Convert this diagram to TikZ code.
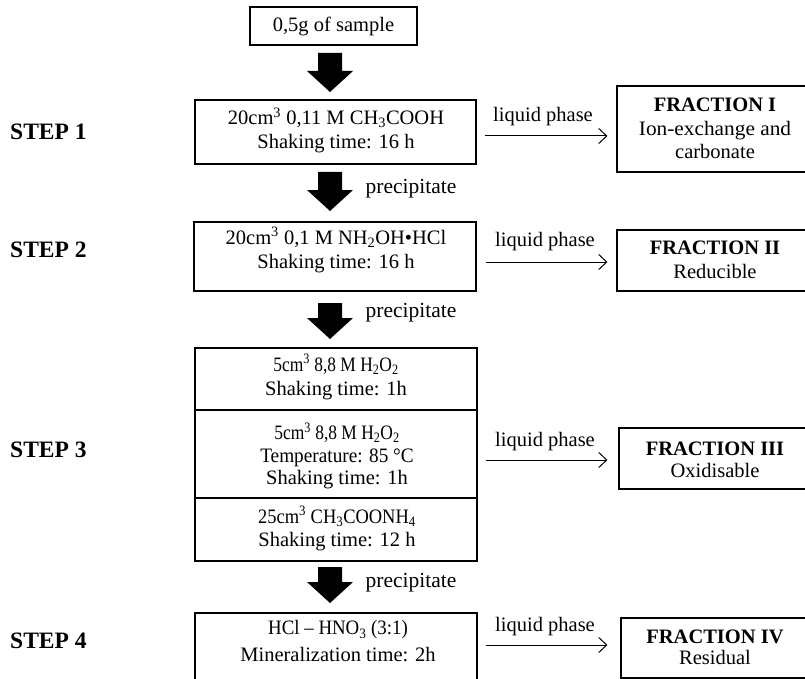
\documentclass[tikz,border=0pt]{standalone}
\usepackage{fontspec}
\usepackage{graphicx}
\setmainfont{Liberation Serif}
\usetikzlibrary{arrows.meta}
\newcommand\blockarrow[4]{\fill[black] (#1-12,#2) -- (#1+12,#2) -- (#1+12,#3) -- (#1+23,#3) -- (#1,#4) -- (#1-23,#3) -- (#1-12,#3) -- cycle;}
\newcommand\hsq[2]{\scalebox{#1}[1]{#2}}
\begin{document}
\begin{tikzpicture}[x=1pt,y=-1pt,
  box/.style={draw, line width=1.1pt, inner sep=0pt},
  txt/.style={align=center, inner sep=0pt, font=\fontsize{20.5}{24}\selectfont},
  steplabel/.style={anchor=west, inner sep=0pt, font=\fontsize{23.5}{26}\selectfont\bfseries},
  lp/.style={line width=1pt, -{Straight Barb[length=8pt,width=15pt,line width=1pt]}},
  lplabel/.style={inner sep=0pt, font=\fontsize{20.5}{24}\selectfont},
  preclabel/.style={inner sep=0pt, font=\fontsize{21.5}{24}\selectfont}]
\useasboundingbox (0,0) rectangle (805,679);
\clip (0,0) rectangle (805,679);
\fill[white] (0,0) rectangle (805,679);

% step labels
\node[steplabel] (L1) at (10,132) {STEP 1};
\node[steplabel] (L2) at (10,250) {STEP 2};
\node[steplabel] (L3) at (10,450) {STEP 3};
\node[steplabel] (L4) at (10,641) {STEP 4};

% sample
\node[box, minimum width=167, minimum height=38] (sample) at (333.5,26) {};
\node[txt] (sampletxt) at (333.5,26) {0,5g of sample};

% step boxes
\node[box, minimum width=281, minimum height=64] (s1) at (335.5,132) {};
\node[txt] (s1t) at (336,130.5) {20cm\textsuperscript{3} 0,11 M CH\textsubscript{3}COOH\\Shaking time: 16 h};

\node[box, minimum width=282, minimum height=69] (s2) at (335,256.5) {};
\node[txt] (s2t) at (336,250) {20cm\textsuperscript{3} 0,1 M NH\textsubscript{2}OH•HCl\\Shaking time: 16 h};

\node[box, minimum width=282, minimum height=62] (s3a) at (336,379) {};
\node[txt] (s3at) at (336,377) {\hsq{0.85}{5cm\textsuperscript{3} 8,8 M H\textsubscript{2}O\textsubscript{2}}\\Shaking time: 1h};

\node[box, minimum width=282, minimum height=88] (s3b) at (336,454) {};
\node[txt,font=\fontsize{20.5}{22.5}\selectfont] (s3bt) at (337,456) {\hsq{0.85}{5cm\textsuperscript{3} 8,8 M H\textsubscript{2}O\textsubscript{2}}\\\hsq{0.94}{Temperature: 85 °C}\\Shaking time: 1h};

\node[box, minimum width=282, minimum height=63] (s3c) at (336,529.5) {};
\node[txt,font=\fontsize{20.5}{23}\selectfont] (s3ct) at (337,528.5) {\hsq{0.9}{25cm\textsuperscript{3} CH\textsubscript{3}COONH\textsubscript{4}}\\Shaking time: 12 h};

\node[box, minimum width=282, minimum height=87] (s4) at (336,656.5) {};
\node[txt,font=\fontsize{20.5}{27}\selectfont] (s4t) at (338,641.5) {\hsq{0.92}{HCl – HNO\textsubscript{3} (3:1)}\\Mineralization time: 2h};

% fraction boxes
\node[box, minimum width=191, minimum height=86] (f1) at (712.5,129) {};
\node[txt,font=\fontsize{20.5}{23.5}\selectfont] (f1t) at (715,128.5) {\textbf{FRACTION I}\\\hsq{1.04}{Ion-exchange and}\\carbonate};

\node[box, minimum width=191, minimum height=61] (f2) at (712.5,260.5) {};
\node[txt] (f2t) at (715,260) {\textbf{FRACTION II}\\Reducible};

\node[box, minimum width=189, minimum height=61] (f3) at (713.5,458.5) {};
\node[txt,font=\fontsize{20.5}{21.5}\selectfont] (f3t) at (715,460) {\textbf{FRACTION III}\\Oxidisable};

\node[box, minimum width=187, minimum height=60] (f4) at (714.5,648) {};
\node[txt,font=\fontsize{20.5}{21.5}\selectfont] (f4t) at (715,647.5) {\textbf{FRACTION IV}\\Residual};

% block arrows
\blockarrow{330}{53}{71}{92}
\blockarrow{330}{172}{190}{211}
\blockarrow{330}{303}{318}{339}
\blockarrow{330}{567}{582}{603}

\node[preclabel] (p1) at (411,189) {precipitate};
\node[preclabel] (p2) at (411,313) {precipitate};
\node[preclabel] (p3) at (411,583) {precipitate};

% liquid phase arrows
\node[lplabel] (lp1) at (543,117) {liquid phase};
\draw[lp] ([shift={(8,4)}]s1.east) -- ([shift={(-9,7)}]f1.west);
\node[lplabel] (lp2) at (545,242) {liquid phase};
\draw[lp] ([shift={(9,5.5)}]s2.east) -- ([shift={(-9,1.5)}]f2.west);
\node[lplabel] (lp3) at (545,442) {liquid phase};
\draw[lp] ([shift={(8,6)}]s3b.east) -- ([shift={(-11,1.5)}]f3.west);
\node[lplabel] (lp4) at (545,627) {liquid phase};
\draw[lp] ([shift={(8,-11.5)}]s4.east) -- ([shift={(-13,-3)}]f4.west);
\end{tikzpicture}
\end{document}
